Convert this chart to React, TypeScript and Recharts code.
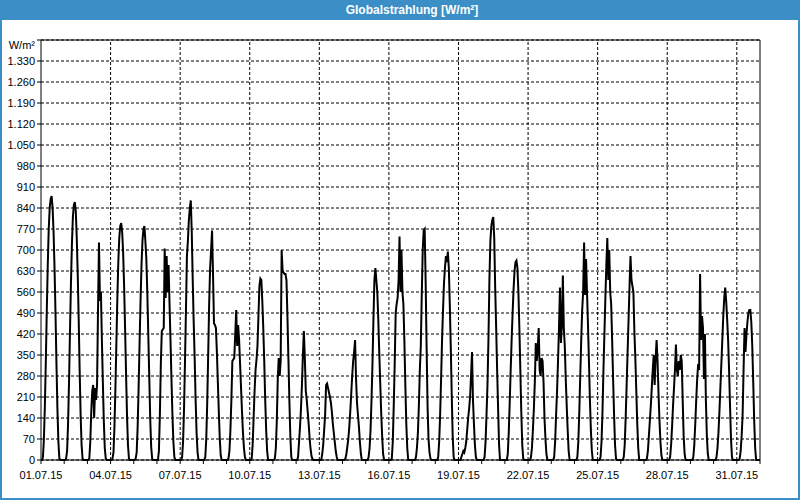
import React from 'react';
import { LineChart, Line, XAxis, YAxis, CartesianGrid, ReferenceLine } from 'recharts';

// hourly values (W/m²) for 02:00 .. 19:00 of each day, night hours are 0
const firstHour = 2;
const d01 = [10, 70, 180, 330, 500, 650, 770, 840, 870, 880, 840, 760, 640, 490, 320, 170, 60, 5];
const d02 = [5, 30, 120, 260, 430, 590, 720, 810, 850, 860, 830, 740, 620, 470, 300, 150, 50, 5];
const d03 = [5, 60, 160, 230, 250, 140, 240, 200, 250, 500, 725, 530, 560, 400, 260, 130, 40, 5];
const d04 = [5, 25, 110, 240, 390, 540, 660, 740, 780, 790, 760, 690, 580, 440, 290, 150, 50, 5];
const d05 = [5, 25, 110, 240, 390, 530, 650, 730, 770, 780, 730, 670, 560, 420, 280, 140, 45, 5];
const d06 = [30, 150, 320, 430, 435, 440, 705, 540, 680, 560, 650, 520, 400, 270, 150, 60, 10, 0];
const d07 = [10, 60, 170, 330, 500, 680, 730, 800, 840, 865, 760, 600, 460, 340, 200, 90, 25, 0];
const d08 = [10, 70, 190, 350, 520, 640, 700, 765, 620, 455, 450, 440, 360, 260, 160, 70, 15, 0];
const d09 = [5, 30, 100, 200, 330, 335, 340, 420, 500, 380, 450, 400, 320, 240, 160, 90, 40, 10];
const d10 = [5, 50, 140, 230, 300, 335, 380, 480, 580, 605, 600, 530, 440, 330, 200, 100, 30, 0];
const d11 = [5, 40, 130, 270, 340, 280, 330, 700, 630, 625, 620, 620, 600, 480, 340, 200, 80, 10];
const d12 = [10, 60, 110, 170, 250, 350, 430, 340, 230, 200, 160, 120, 70, 35, 12, 3, 0, 0];
const d13 = [0, 20, 50, 100, 150, 250, 255, 240, 225, 210, 190, 160, 120, 90, 60, 30, 10, 0];
const d14 = [0, 5, 20, 45, 70, 110, 160, 220, 280, 330, 360, 400, 270, 190, 150, 110, 60, 20];
const d15 = [0, 10, 40, 100, 200, 320, 470, 600, 640, 600, 560, 470, 360, 260, 160, 80, 20, 0];
const d16 = [0, 5, 60, 180, 320, 490, 520, 540, 600, 745, 560, 700, 560, 520, 400, 250, 120, 40];
const d17 = [0, 0, 10, 40, 90, 180, 300, 380, 550, 700, 765, 770, 600, 380, 180, 70, 25, 5];
const d18 = [0, 10, 60, 150, 270, 400, 500, 590, 640, 680, 660, 695, 640, 520, 380, 220, 80, 10];
const d19 = [0, 10, 20, 30, 25, 40, 60, 100, 140, 170, 210, 280, 360, 200, 120, 50, 10, 0];
const d20 = [0, 10, 60, 150, 250, 400, 600, 730, 780, 800, 810, 740, 570, 440, 300, 170, 50, 0];
const d21 = [0, 20, 90, 190, 300, 400, 490, 570, 630, 660, 665, 640, 560, 440, 300, 160, 50, 5];
const d22 = [0, 10, 40, 100, 170, 260, 390, 330, 370, 440, 300, 280, 340, 330, 260, 140, 70, 20];
const d23 = [0, 10, 60, 150, 230, 330, 440, 575, 390, 450, 615, 440, 380, 270, 180, 100, 30, 0];
const d24 = [0, 10, 60, 160, 280, 400, 500, 560, 725, 550, 670, 560, 450, 330, 200, 100, 30, 0];
const d25 = [0, 10, 60, 160, 300, 420, 540, 650, 740, 600, 700, 560, 520, 400, 270, 150, 50, 5];
const d26 = [0, 10, 50, 140, 250, 360, 470, 580, 680, 600, 580, 560, 430, 340, 230, 120, 40, 0];
const d27 = [0, 5, 30, 80, 130, 180, 240, 300, 350, 250, 340, 400, 330, 220, 130, 60, 15, 0];
const d28 = [0, 10, 50, 110, 180, 240, 300, 385, 300, 280, 330, 300, 350, 330, 200, 80, 20, 0];
const d29 = [0, 10, 50, 120, 200, 270, 320, 300, 620, 400, 480, 440, 270, 420, 200, 80, 20, 0];
const d30 = [0, 10, 40, 90, 160, 240, 320, 400, 480, 540, 575, 530, 470, 400, 300, 180, 70, 10];
const d31 = [0, 5, 30, 80, 150, 300, 440, 360, 420, 460, 490, 500, 500, 460, 380, 260, 130, 40];

const days = [d01, d02, d03, d04, d05, d06, d07, d08, d09, d10, d11, d12, d13, d14, d15, d16,
  d17, d18, d19, d20, d21, d22, d23, d24, d25, d26, d27, d28, d29, d30, d31];

const yTicks = [0, 70, 140, 210, 280, 350, 420, 490, 560, 630, 700, 770, 840, 910, 980, 1050,
  1120, 1190, 1260, 1330, 1400];
const yUnit = 'W/m²';
const labelDays = [0, 3, 6, 9, 12, 15, 18, 21, 24, 27, 30];
const dateLabels = ['01.07.15', '04.07.15', '07.07.15', '10.07.15', '13.07.15', '16.07.15',
  '19.07.15', '22.07.15', '25.07.15', '28.07.15', '31.07.15'];
const title = 'Globalstrahlung [W/m²]';

const data: { t: number; v: number }[] = [];
days.forEach((vals, i) => {
  for (let h = 0; h < 24; h++) {
    const k = h - firstHour;
    data.push({ t: i * 24 + h, v: k >= 0 && k < vals.length ? vals[k] : 0 });
  }
});
data.push({ t: days.length * 24, v: 0 });

const totalHours = days.length * 24;
const xTicks = days.map((_, i) => i * 24).concat(totalHours);

const font = '"Liberation Sans", Arial, sans-serif';
const blue = '#3c8fc6';

const fmt = (n: number) =>
  n >= 1000 ? `${Math.floor(n / 1000)}.${String(n % 1000).padStart(3, '0')}` : String(n);

function XTick({ x, y, payload }: any) {
  const idx = labelDays.indexOf(payload.value / 24);
  if (idx < 0) return <g />;
  return (
    <text x={x} y={y} dy={8} textAnchor="middle" fontSize={11} fontFamily={font} fill="#000">
      {dateLabels[idx]}
    </text>
  );
}

function YTick({ x, y, payload }: any) {
  const top = payload.value === 1400;
  return (
    <text x={x} y={y} dy={top ? 9 : 4} textAnchor="end" fontSize={11} fontFamily={font} fill="#000">
      {top ? yUnit : fmt(payload.value)}
    </text>
  );
}

export default function App() {
  return (
    <div style={{ position: 'absolute', left: 0, top: 0, width: 800, height: 500, background: '#fff' }}>
      <LineChart width={800} height={500} data={data} margin={{ top: 40, right: 40, bottom: 0, left: 0 }}>
        <CartesianGrid horizontal vertical={false} stroke="#000" strokeDasharray="3 2" />
        {labelDays.slice(1).map((d) => (
          <ReferenceLine key={d} x={d * 24} stroke="#000" strokeDasharray="3 2" />
        ))}
        <ReferenceLine y={1400} stroke="#000" />
        <ReferenceLine x={totalHours} stroke="#000" />
        <XAxis
          type="number"
          dataKey="t"
          domain={[0, totalHours]}
          ticks={xTicks}
          interval={0}
          tickSize={4}
          tickMargin={7}
          height={40}
          axisLine={{ stroke: '#000' }}
          tickLine={{ stroke: '#000' }}
          tick={<XTick />}
        />
        <YAxis
          type="number"
          domain={[0, 1400]}
          ticks={yTicks}
          interval={0}
          width={41}
          tickSize={4}
          tickMargin={2}
          axisLine={{ stroke: '#000' }}
          tickLine={{ stroke: '#000' }}
          tick={<YTick />}
        />
        <Line
          type="linear"
          dataKey="v"
          stroke="#000"
          strokeWidth={2}
          dot={false}
          isAnimationActive={false}
        />
      </LineChart>
      <div
        style={{
          position: 'absolute', left: 0, top: 0, width: 800, height: 20, background: blue,
          color: '#fff', fontFamily: font, fontWeight: 'bold', fontSize: 12, lineHeight: '20px',
          textAlign: 'center', paddingLeft: 24, boxSizing: 'border-box',
        }}
      >
        {title}
      </div>
      <div
        style={{
          position: 'absolute', left: 0, top: 0, width: 800, height: 500,
          border: `2px solid ${blue}`, boxSizing: 'border-box', pointerEvents: 'none',
        }}
      />
    </div>
  );
}
